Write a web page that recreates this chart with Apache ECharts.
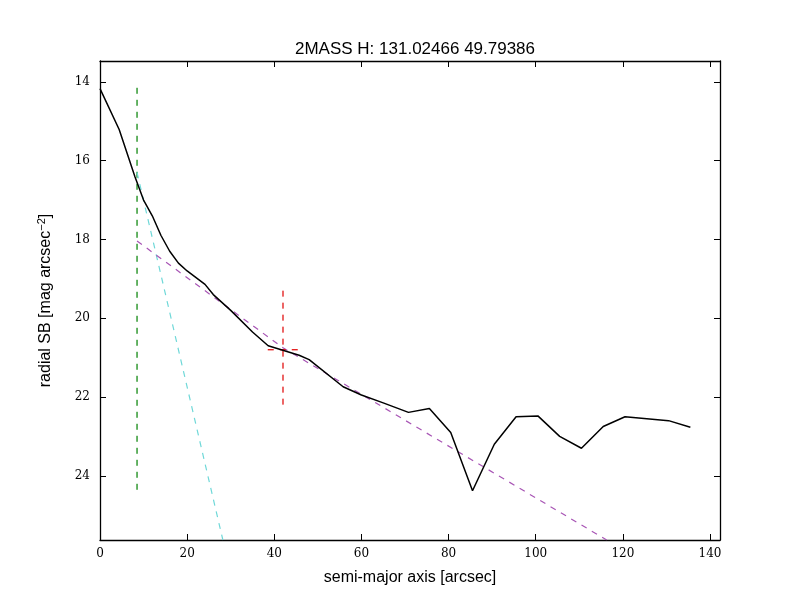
<!DOCTYPE html>
<html>
<head>
<meta charset="utf-8" />
<script src="https://cdn.jsdelivr.net/npm/echarts@6/dist/echarts.min.js"></script>
</head>
<body style="margin:0">
<div id="main" style="width:800px;height:600px"></div>
<script>
// surface brightness profile
var sma = [0, 4.4, 8, 10, 12, 14, 16, 18, 20, 24.1, 26, 30, 35, 38.6, 45.7, 48, 55.8, 60, 65, 70.8, 75.6, 80.5, 85.5, 90.5, 95.5, 100.5, 105.5, 110.5, 115.5, 120.5, 130.5, 135.5];
var sb = [14.17, 15.21, 16.4, 17.0, 17.4, 17.9, 18.3, 18.6, 18.8, 19.14, 19.4, 19.8, 20.35, 20.7, 20.94, 21.05, 21.74, 21.95, 22.15, 22.39, 22.29, 22.9, 24.38, 23.2, 22.5, 22.48, 23.0, 23.3, 22.75, 22.5, 22.6, 22.77];
var yTicks = [14, 16, 18, 20, 22, 24];
var greenLine = [[8.5, 14.15], [8.5, 24.45]];
var cyanLine = [[8.5, 16.3], [28.2, 25.63]];
var magentaLine = [[8.5, 18.04], [42, 20.75], [116.3, 25.63]];
var redV = [[42, 19.3], [42, 22.35]];
var redH = [[38.5, 20.8], [45.5, 20.8]];

var xMin = 0, xMax = 142.3, yMin = 13.47, yMax = 25.63;

var chart = echarts.init(document.getElementById('main'));
var font = 'Liberation Sans';
var tickFont = 'DejaVu Serif';
function dashed(data, color) {
  return { type: 'line', data: data, symbol: 'none', silent: true,
    lineStyle: { color: color, width: 1.2, type: [6, 6] } };
}
var tickAxis = { axisLine: { show: true, onZero: false, lineStyle: { color: '#000', width: 1.3 } },
  axisTick: { inside: true, length: 6, lineStyle: { color: '#000' } }, splitLine: { show: false } };
var yTickAxis = { axisLine: tickAxis.axisLine, splitLine: { show: false },
  axisTick: { inside: true, length: 6, lineStyle: { color: '#000' }, customValues: yTicks } };
chart.setOption({
  animation: false,
  title: { text: '2MASS H: 131.02466 49.79386', left: 410, top: 36, textAlign: 'center',
    textStyle: { fontFamily: font, fontSize: 17, fontWeight: 'normal', color: '#000' } },
  grid: { left: 100, right: 80, top: 61, bottom: 60 },
  xAxis: [
    Object.assign({ type: 'value', min: xMin, max: xMax, interval: 20, name: 'semi-major axis [arcsec]',
      nameLocation: 'middle', nameGap: 30, nameTextStyle: { fontFamily: font, fontSize: 16, color: '#000' },
      axisLabel: { fontFamily: tickFont, fontSize: 12, color: '#000', showMaxLabel: false, margin: 8 } }, tickAxis),
    Object.assign({ type: 'value', position: 'top', min: xMin, max: xMax, interval: 20, axisLabel: { show: false } }, tickAxis)
  ],
  yAxis: [
    Object.assign({ type: 'value', inverse: true, min: yMin, max: yMax,
      name: 'radial SB [mag arcsec{sup|−2}]',
      nameLocation: 'middle', nameGap: 45,
      nameTextStyle: { fontFamily: font, fontSize: 16, color: '#000',
        rich: { sup: { fontFamily: font, fontSize: 11, verticalAlign: 'top', padding: [0, 0, 8, 0] } } },
      axisLabel: { fontFamily: tickFont, fontSize: 12, color: '#000', margin: 10, customValues: yTicks } }, yTickAxis),
    Object.assign({ type: 'value', inverse: true, position: 'right', min: yMin, max: yMax, axisLabel: { show: false } }, yTickAxis)
  ],
  series: [
    dashed(greenLine, '#008000'),
    dashed(cyanLine, '#6fd8d8'),
    dashed(magentaLine, '#a855b5'),
    dashed(redV, '#e00000'),
    dashed(redH, '#e00000'),
    { type: 'line', data: sma.map(function (x, i) { return [x, sb[i]]; }), symbol: 'none',
      lineStyle: { color: '#000', width: 1.5 } }
  ]
});
</script>
</body>
</html>
